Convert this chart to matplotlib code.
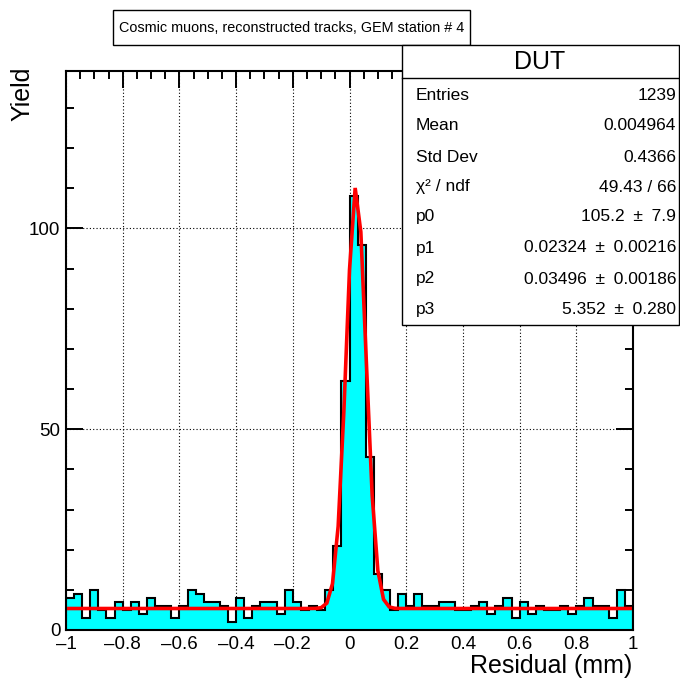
import numpy as np
import matplotlib
matplotlib.use("Agg")
import matplotlib.pyplot as plt
from matplotlib.patches import Rectangle
from matplotlib.lines import Line2D
from matplotlib.ticker import MultipleLocator, FuncFormatter

plt.rcParams['font.family'] = ['Liberation Sans', 'DejaVu Sans']

# ---------------- data ----------------
x_min, x_max, n_bins = -1.0, 1.0, 70
counts = [8, 9, 3, 10, 5, 3, 7, 5, 7, 4,
          8, 6, 6, 3, 6, 10, 9, 7, 7, 6,
          2, 8, 3, 6, 7, 7, 4, 10, 7, 5,
          6, 5, 10, 21, 62, 108, 96, 43, 14, 10,
          5, 9, 6, 9, 6, 6, 7, 7, 5, 5,
          6, 7, 4, 6, 8, 3, 7, 4, 6, 5,
          5, 6, 4, 6, 8, 6, 6, 3, 10, 6]
fit_params = [105.2, 0.02324, 0.03496, 5.352]   # p0 .. p3 (gaus + const)

title_text = "Cosmic muons, reconstructed tracks, GEM station # 4"
stats_name = "DUT"
stats_labels = ["Entries", "Mean", "Std Dev", "χ² / ndf", "p0", "p1", "p2", "p3"]
stats_values = ["1239", "0.004964", "0.4366", "49.43 / 66", "105.2\u2002±\u20027.9",
                "0.02324\u2002±\u20020.00216", "0.03496\u2002±\u20020.00186",
                "5.352\u2002±\u20020.280"]
x_title = "Residual (mm)"
y_title = "Yield"

# ---------------- figure ----------------
W, H = 680, 683
fig = plt.figure(figsize=(W / 100, H / 100), dpi=100)


def fx(x):
    return x / W


def fy(y):
    return 1 - y / H


L, R, T, B = 66, 633, 71, 630
ax = fig.add_axes([fx(L), fy(B), (R - L) / W, (B - T) / H])

edges = np.linspace(x_min, x_max, n_bins + 1)
ax.stairs(counts, edges, fill=True, color='#00ffff', zorder=2)
ax.stairs(counts, edges, color='black', lw=1.5, zorder=3)

p0, p1, p2, p3 = fit_params
xf = np.linspace(x_min, x_max, 101)
yf = p0 * np.exp(-0.5 * ((xf - p1) / p2) ** 2) + p3
ax.plot(xf, yf, color='red', lw=2.6, zorder=4, solid_joinstyle='miter')

ax.set_xlim(x_min, x_max)
ax.set_ylim(0, (B - T) / 4.015)

ax.xaxis.set_major_locator(MultipleLocator(0.2))
ax.xaxis.set_minor_locator(MultipleLocator(0.05))
ax.yaxis.set_major_locator(MultipleLocator(50))
ax.yaxis.set_minor_locator(MultipleLocator(10))


def xfmt(v, pos):
    if abs(v - round(v)) < 1e-9:
        s = "%d" % round(v)
    else:
        s = "%.1f" % v
    return s.replace("-", "\u2013")


ax.xaxis.set_major_formatter(FuncFormatter(xfmt))
ax.yaxis.set_major_formatter(FuncFormatter(lambda v, p: "%d" % round(v)))

ax.tick_params(which='both', direction='in', top=True, right=True, width=1.4,
               labelsize=13.5, color='black')
ax.tick_params(which='major', length=12)
ax.tick_params(which='minor', length=6)
ax.tick_params(axis='x', pad=4.5)
ax.tick_params(axis='y', pad=4)

ax.grid(True, which='major', ls=(0, (1, 2)), color='black', lw=0.8, zorder=1)
for s in ax.spines.values():
    s.set_linewidth(1.5)
    s.set_zorder(5)

fig.text(fx(632), fy(666), x_title, ha='right', va='center', fontsize=18)
fig.text(fx(22), fy(67), y_title, ha='center', va='top', rotation=90, fontsize=18)

# title box
fig.add_artist(Rectangle((fx(113), fy(45)), (470 - 113) / W, 35 / H,
                         transform=fig.transFigure, facecolor='white',
                         edgecolor='black', lw=1.0, zorder=10))
fig.text(fx(291.5), fy(27.5), title_text, ha='center', va='center',
         fontsize=10.4, zorder=11)

# stats box
fig.add_artist(Rectangle((fx(402), fy(325)), (678.5 - 402) / W, (325 - 45) / H,
                         transform=fig.transFigure, facecolor='white',
                         edgecolor='black', lw=1.0, zorder=10))
fig.add_artist(Line2D([fx(402), fx(678.5)], [fy(78), fy(78)],
                      transform=fig.transFigure, color='black', lw=1.0, zorder=11))
fig.text(fx(540), fy(62), stats_name, ha='center', va='center', fontsize=18, zorder=11)
row_y = [96, 126, 157, 187, 217, 248, 279, 310]
for lab, val, yy in zip(stats_labels, stats_values, row_y):
    fig.text(fx(416), fy(yy), lab, ha='left', va='center', fontsize=12.5, zorder=11)
    fig.text(fx(676), fy(yy), val, ha='right', va='center', fontsize=12.5, zorder=11)

fig.savefig("out.png", dpi=100)
